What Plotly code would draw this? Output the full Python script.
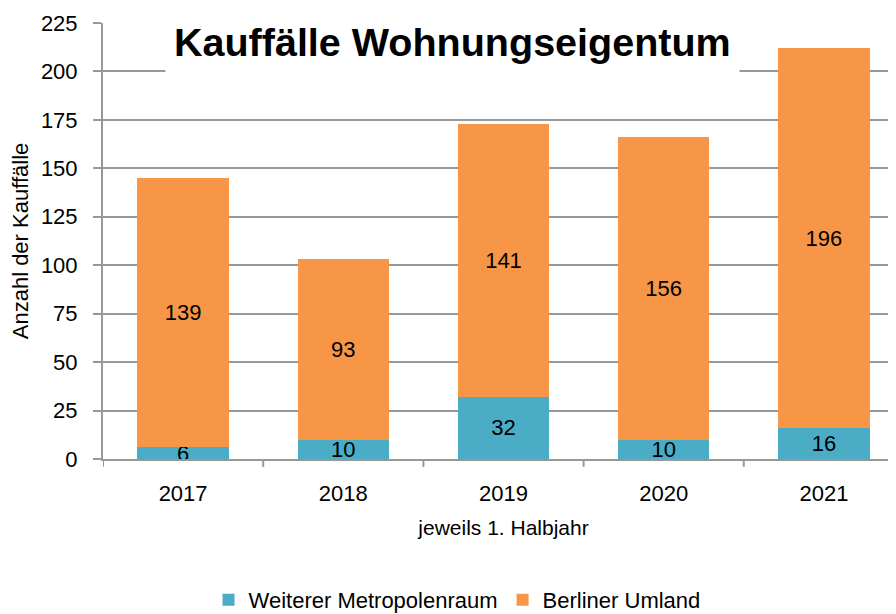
import plotly.graph_objects as go

years = ["2017", "2018", "2019", "2020", "2021"]
weiterer = [6, 10, 32, 10, 16]
umland = [139, 93, 141, 156, 196]
y_ticks = [0, 25, 50, 75, 100, 125, 150, 175, 200, 225]

FONT = "Liberation Sans, Arial, sans-serif"

fig = go.Figure()
fig.add_trace(go.Bar(
    x=years, y=weiterer, name="Weiterer Metropolenraum",
    marker=dict(color="#4BACC6", line=dict(width=0)),
    text=[str(v) for v in weiterer], textposition="inside", textangle=0,
    insidetextanchor="middle", textfont=dict(size=22, color="black", family=FONT),
    width=0.57,
))
fig.add_trace(go.Bar(
    x=years, y=umland, name="Berliner Umland",
    marker=dict(color="#F79646", line=dict(width=0)),
    text=[str(v) for v in umland], textposition="inside", textangle=0,
    insidetextanchor="middle", textfont=dict(size=22, color="black", family=FONT),
    width=0.57,
))

fig.update_layout(
    barmode="stack",
    width=896, height=614,
    margin=dict(l=95, r=0, t=15, b=163, autoexpand=False),
    paper_bgcolor="white", plot_bgcolor="white",
    font=dict(family=FONT, size=21, color="black"),
    uniformtext=dict(minsize=22, mode="show"),
    showlegend=True,
    legend=dict(orientation="h", x=0.442, xanchor="center",
                y=-0.323, yanchor="middle",
                traceorder="normal", font=dict(size=22), itemwidth=30),
    xaxis=dict(
        range=[-0.5, 4.5], showgrid=False, automargin=False,
        showline=True, linecolor="#989898", linewidth=2,
        ticks="", ticklabelstandoff=14,
        tickfont=dict(size=22),
        title=dict(text="jeweils 1. Halbjahr", font=dict(size=21), standoff=15),
    ),
    yaxis=dict(
        range=[0, 225], tickvals=y_ticks, automargin=False,
        showgrid=True, gridcolor="#989898", gridwidth=2,
        showline=True, linecolor="#989898", linewidth=2,
        ticks="outside", ticklen=8, tickcolor="#989898", tickwidth=2,
        ticklabelstandoff=11,
        tickfont=dict(size=22),
        title=dict(text="Anzahl der Kauffälle", font=dict(size=22), standoff=8),
        zeroline=False,
    ),
    bargap=0.43,
)

# category boundary tick marks on x-axis
for i in range(6):
    fig.add_shape(type="line", xref="x", yref="paper", x0=i - 0.5, x1=i - 0.5,
                  y0=0, y1=-0.018, line=dict(color="#989898", width=2))

fig.add_annotation(
    text="<b>Kauffälle Wohnungseigentum</b>", xref="paper", yref="paper",
    x=0.436, y=0.956, xanchor="center", yanchor="middle", showarrow=False,
    font=dict(size=39.5, color="black", family=FONT),
    bgcolor="white", borderpad=8,
)

fig.write_html("out.html")
